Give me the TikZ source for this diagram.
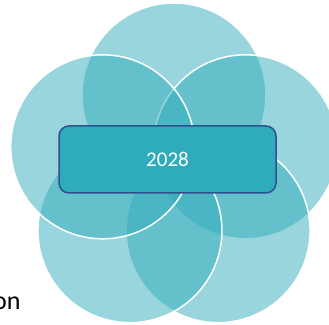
\documentclass[tikz,border=0pt]{standalone}
\usepackage{fontspec}
\setmainfont{Carlito}
\usetikzlibrary{positioning}
\definecolor{petalteal}{RGB}{49,172,187}
\definecolor{boxteal}{RGB}{47,172,187}
\definecolor{boxedge}{RGB}{47,82,143}
\tikzset{
    petal/.style = {circle, draw=white, line width=1.5pt, fill=petalteal, fill opacity=0.5, minimum size=184pt, inner sep=0pt},
    yearbox/.style = {rectangle, rounded corners=10pt, draw=boxedge, line width=1.5pt, fill=boxteal, minimum width=217pt, minimum height=67pt, text=white, font=\fontsize{21}{25}\selectfont},
    sidetext/.style = {inner sep=0pt, text=black, font=\fontsize{26}{30}\selectfont}
}

\begin{document}
\begin{tikzpicture}[x=1pt,y=1pt]
  \useasboundingbox (0,0) rectangle (329,324);
  \coordinate (mid) at (174,154);
  % petals, clockwise from the top one
  \foreach \a/\n in {90/top,18/right,-54/botright,-126/botleft,162/left}
    \node[petal] (\n) at ([shift={(\a:75)}]mid) {};

  \node[yearbox] (year) at (167.5,164.5) {2028};
  \node[sidetext, anchor=base east] (tail) at (20.8,15) {on};
\end{tikzpicture}
\end{document}
